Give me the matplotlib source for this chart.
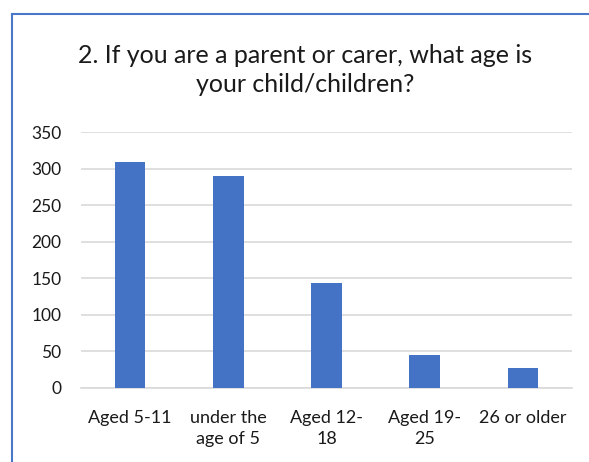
import matplotlib.pyplot as plt
from matplotlib.lines import Line2D

categories = ["Aged 5-11", "under the\nage of 5", "Aged 12-\n18", "Aged 19-\n25", "26 or older"]
counts = [309, 290, 144, 45, 27]
yticks = [0, 50, 100, 150, 200, 250, 300, 350]

plt.rcParams["font.family"] = ["Lato", "DejaVu Sans"]

fig = plt.figure(figsize=(5.89, 4.62), dpi=100)
ax = fig.add_axes([81 / 589, 1 - 387.7 / 462, (572 - 81) / 589, (387.7 - 132.3) / 462])

x = range(len(categories))
ax.bar(x, counts, width=0.31, color="#4472C4", zorder=3)

ax.set_xlim(-0.5, len(categories) - 0.5)
ax.set_ylim(0, 350)
ax.set_yticks(yticks)
ax.set_yticklabels([str(v) for v in yticks], fontsize=12.5, color="#1a1a1a")
ax.set_xticks(list(x))
ax.set_xticklabels(categories, fontsize=13, color="#1a1a1a", linespacing=1.4)
ax.tick_params(axis="y", length=0, pad=14)
ax.tick_params(axis="x", length=0, pad=16)

ax.grid(axis="y", color="#d9d9d9", linewidth=1.2, zorder=0)
for s in ["top", "right", "left"]:
    ax.spines[s].set_visible(False)
ax.spines["bottom"].set_color("#d9d9d9")
ax.spines["bottom"].set_linewidth(1.2)

fig.text(305.5 / 589, 1 - 70 / 462,
         "2. If you are a parent or carer, what age is\nyour child/children?",
         ha="center", va="center", fontsize=18, color="#1a1a1a", linespacing=1.35)

# chart border (left and top edges only)
border = "#4a78c8"
fig.add_artist(Line2D([11.5 / 589, 11.5 / 589], [0, 1 - 14 / 462], color=border, lw=1.5,
                      transform=fig.transFigure))
fig.add_artist(Line2D([11.5 / 589, 1], [1 - 14 / 462, 1 - 14 / 462], color=border, lw=1.5,
                      transform=fig.transFigure))

fig.savefig("out.png", dpi=100)
